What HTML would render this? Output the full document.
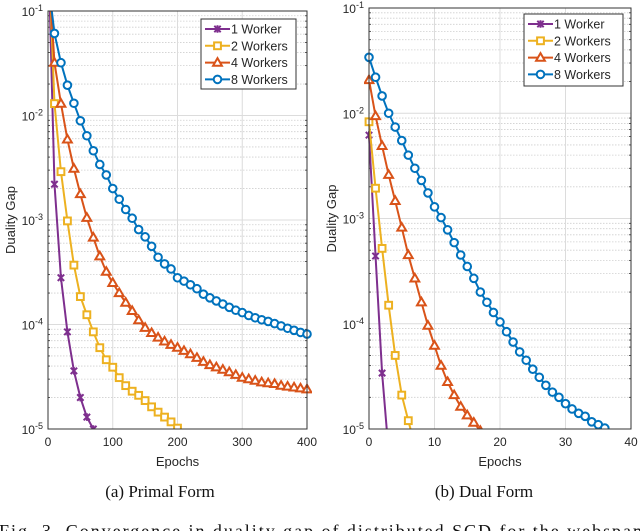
<!DOCTYPE html>
<html><head><meta charset="utf-8"><style>
html,body{margin:0;padding:0;background:#fff;width:640px;height:531px;overflow:hidden}
svg{display:block}
text{font-family:"Liberation Sans",sans-serif;fill:#262626}
.serif{font-family:"Liberation Serif",serif;fill:#111}
</style></head><body>
<svg id="fig" width="640" height="531" viewBox="0 0 640 531" xmlns="http://www.w3.org/2000/svg">
<text class="serif" x="160" y="497" font-size="17" text-anchor="middle">(a) Primal Form</text>
<text class="serif" x="484" y="497" font-size="17" text-anchor="middle">(b) Dual Form</text>
<text class="serif" x="-1" y="537" font-size="18" textLength="648">Fig. 3.  Convergence in duality gap of distributed SCD for the webspam</text>
</svg>
<script>
const seriesNames = ["1 Worker","2 Workers","4 Workers","8 Workers"];
const seriesColors = ["#7E2F8E","#EDB120","#D95319","#0072BD"];
const seriesMarkers = ["x","square","triangle","circle"];
// Primal form (epochs every 10)
const primalX1 = [0,10,20,30,40,50,60,70,80];
const primalY1 = [0.5,2.2e-3,2.8e-4,8.5e-5,3.6e-5,2e-5,1.3e-5,1e-5,8e-6];
const primalX2 = [0,10,20,30,40,50,60,70,80,90,100,110,120,130,140,150,160,170,180,190,200];
const primalY2 = [0.5,1.3e-2,2.9e-3,9.8e-4,3.7e-4,1.85e-4,1.24e-4,8.5e-5,6e-5,4.6e-5,3.9e-5,3.1e-5,2.6e-5,2.3e-5,2.1e-5,1.87e-5,1.63e-5,1.45e-5,1.3e-5,1.17e-5,1.02e-5];
const primalX4 = [0,10,20,30,40,50,60,70,80,90,100,110,120,130,140,150,160,170,180,190,200,210,220,230,240,250,260,270,280,290,300,310,320,330,340,350,360,370,380,390,400];
const primalY4 = [0.3,3.2e-2,1.3e-2,5.9e-3,3.1e-3,1.77e-3,1.05e-3,6.8e-4,4.5e-4,3.2e-4,2.5e-4,2e-4,1.62e-4,1.35e-4,1.1e-4,9.3e-5,8.3e-5,7.5e-5,6.9e-5,6.4e-5,6e-5,5.6e-5,5.2e-5,4.8e-5,4.4e-5,4.1e-5,3.9e-5,3.7e-5,3.5e-5,3.3e-5,3.1e-5,3e-5,2.9e-5,2.8e-5,2.75e-5,2.7e-5,2.6e-5,2.55e-5,2.5e-5,2.45e-5,2.4e-5];
const primalX8 = primalX4;
const primalY8 = [0.2,6.1e-2,3.2e-2,1.95e-2,1.31e-2,8.9e-3,6.4e-3,4.6e-3,3.4e-3,2.7e-3,2e-3,1.58e-3,1.26e-3,1.04e-3,8.1e-4,6.9e-4,5.6e-4,4.4e-4,3.8e-4,3.4e-4,2.8e-4,2.6e-4,2.4e-4,2.2e-4,1.95e-4,1.8e-4,1.68e-4,1.57e-4,1.46e-4,1.37e-4,1.3e-4,1.22e-4,1.16e-4,1.11e-4,1.07e-4,1.02e-4,9.7e-5,9.2e-5,8.8e-5,8.4e-5,8.1e-5];
// Dual form (every epoch)
const dualX1 = [0,1,2,3];
const dualY1 = [6.2e-3,4.4e-4,3.4e-5,6e-6];
const dualX2 = [0,1,2,3,4,5,6,7];
const dualY2 = [8.3e-3,1.94e-3,5.2e-4,1.5e-4,5e-5,2.1e-5,1.2e-5,7e-6];
const dualX4 = [0,1,2,3,4,5,6,7,8,9,10,11,12,13,14,15,16,17];
const dualY4 = [2.07e-2,9.4e-3,4.9e-3,2.6e-3,1.47e-3,8.2e-4,4.5e-4,2.7e-4,1.6e-4,9.6e-5,6.2e-5,4e-5,2.8e-5,2.1e-5,1.63e-5,1.35e-5,1.15e-5,9.6e-6];
const dualX8 = [0,1,2,3,4,5,6,7,8,9,10,11,12,13,14,15,16,17,18,19,20,21,22,23,24,25,26,27,28,29,30,31,32,33,34,35,36];
const dualY8 = [3.4e-2,2.2e-2,1.46e-2,1e-2,7.4e-3,5.5e-3,4e-3,3e-3,2.3e-3,1.75e-3,1.29e-3,1.02e-3,7.8e-4,5.9e-4,4.5e-4,3.5e-4,2.7e-4,2e-4,1.6e-4,1.28e-4,1.04e-4,8.4e-5,6.7e-5,5.4e-5,4.5e-5,3.7e-5,3.1e-5,2.6e-5,2.24e-5,2e-5,1.74e-5,1.55e-5,1.41e-5,1.32e-5,1.17e-5,1.1e-5,1.02e-5];
const primalXTicks = [0,100,200,300,400];
const dualXTicks = [0,10,20,30,40];
const yTickExps = [-1,-2,-3,-4,-5];

const NS="http://www.w3.org/2000/svg";
const svg=document.getElementById('fig');
function mk(tag,attrs,parent){const e=document.createElementNS(NS,tag);for(const k in attrs)e.setAttribute(k,attrs[k]);(parent||svg).appendChild(e);return e;}

function drawChart(id,box,xMax,xTicks,xs,ys,legend){
  const g=mk('g',{});
  
  
  const {l,r,t,b}=box;
  const sx=v=>l+(v/xMax)*(r-l);
  const sy=v=>t+(-1-Math.log10(v))/4*(b-t);
  for(let d=-5;d<-1;d++){
    for(let m=2;m<=9;m++){
      const y=sy(m*Math.pow(10,d));
      const ln=mk('line',{x1:l,x2:r,y1:y,y2:y,stroke:'#cfcfcf','stroke-width':0.8,'stroke-dasharray':'1.5,1.5'},g);
      
      
    }
  }
  yTickExps.forEach(e=>{
    const y=sy(Math.pow(10,e));
    const ln=mk('line',{x1:l,x2:r,y1:y,y2:y,stroke:'#dcdcdc','stroke-width':1},g);
    
    
    const tx=mk('text',{x:l-5,y:y+5,'font-size':12,'text-anchor':'end'},g);
    
    
    tx.innerHTML='10<tspan dy="-5" font-size="9">'+e+'</tspan>';
    for(let m=2;m<=9;m++){
      if(e<=-5)break;
      const yy=sy(m*Math.pow(10,e-1));
      mk('line',{x1:l,x2:l+2,y1:yy,y2:yy,stroke:'#333','stroke-width':0.8},g);
      mk('line',{x1:r,x2:r-2,y1:yy,y2:yy,stroke:'#333','stroke-width':0.8},g);
    }
  });
  xTicks.forEach(v=>{
    const x=sx(v);
    const ln=mk('line',{x1:x,x2:x,y1:t,y2:b,stroke:'#dcdcdc','stroke-width':1},g);
    
    
    const tx=mk('text',{x:x,y:b+17,'font-size':12,'text-anchor':'middle'},g);
    
    
    tx.textContent=v;
  });
  const cp=mk('clipPath',{id:id+'-clip'},g);
  mk('rect',{x:l-5,y:t,width:r-l+10,height:b-t},cp);
  const data=mk('g',{'clip-path':'url(#'+id+'-clip)'},g);
  
  
  xs.forEach((xa,i)=>{
    const ya=ys[i];
    const pts=xa.map((x,j)=>sx(x).toFixed(2)+','+sy(ya[j]).toFixed(2)).join(' ');
    const pl=mk('polyline',{points:pts,fill:'none',stroke:seriesColors[i],'stroke-width':2},data);
    
    
    xa.forEach((x,j)=>{
      const m=marker(data,seriesMarkers[i],sx(x),sy(ya[j]),seriesColors[i]);
      
      
    });
  });
  const frame=mk('rect',{x:l,y:t,width:r-l,height:b-t,fill:'none',stroke:'#333','stroke-width':1},g);
  
  
  const xl=mk('text',{x:(l+r)/2,y:b+37,'font-size':13,'text-anchor':'middle'},g);
  
  
  xl.textContent='Epochs';
  const yc=(t+b)/2;
  const yl=mk('text',{x:l-33,y:yc,'font-size':13,'text-anchor':'middle',transform:'rotate(-90 '+(l-33)+' '+yc+')'},g);
  
  
  yl.textContent='Duality Gap';
  const lg=mk('g',{},g);
  
  
  mk('rect',{x:legend.x,y:legend.y,width:legend.w,height:legend.h,fill:'#fff',stroke:'#333','stroke-width':1},lg);
  seriesNames.forEach((n,i)=>{
    const yy=legend.y+10+i*16.8;
    const e=mk('g',{},lg);
    
    
    mk('line',{x1:legend.x+4,x2:legend.x+29,y1:yy,y2:yy,stroke:seriesColors[i],'stroke-width':2},e);
    marker(e,seriesMarkers[i],legend.x+16.5,yy,seriesColors[i]);
    const tx=mk('text',{x:legend.x+30,y:yy+4.5,'font-size':12.5},e);
    tx.textContent=n;
  });
}
function marker(p,type,x,y,c){
  if(type==='circle')return mk('circle',{cx:x,cy:y,r:3.8,fill:'#fff',stroke:c,'stroke-width':2},p);
  if(type==='square')return mk('rect',{x:x-3.4,y:y-3.4,width:6.8,height:6.8,fill:'#fff',stroke:c,'stroke-width':2},p);
  if(type==='triangle')return mk('path',{d:`M${x},${y-4.5}L${x+4.4},${y+3.1}L${x-4.4},${y+3.1}Z`,fill:'#fff',stroke:c,'stroke-width':2},p);
  return mk('path',{d:`M${x-3.2},${y-3.2}L${x+3.2},${y+3.2}M${x-3.2},${y+3.2}L${x+3.2},${y-3.2}M${x},${y-3.8}V${y+3.8}`,fill:'none',stroke:c,'stroke-width':2},p);
}
drawChart('primal',{l:48,r:307,t:11,b:429},400,primalXTicks,
  [primalX1,primalX2,primalX4,primalX8],[primalY1,primalY2,primalY4,primalY8],
  {x:201,y:19,w:95,h:70});
drawChart('dual',{l:369,r:631,t:8,b:429},40,dualXTicks,
  [dualX1,dualX2,dualX4,dualX8],[dualY1,dualY2,dualY4,dualY8],
  {x:524,y:14,w:99,h:72});
</script>
</body></html>
